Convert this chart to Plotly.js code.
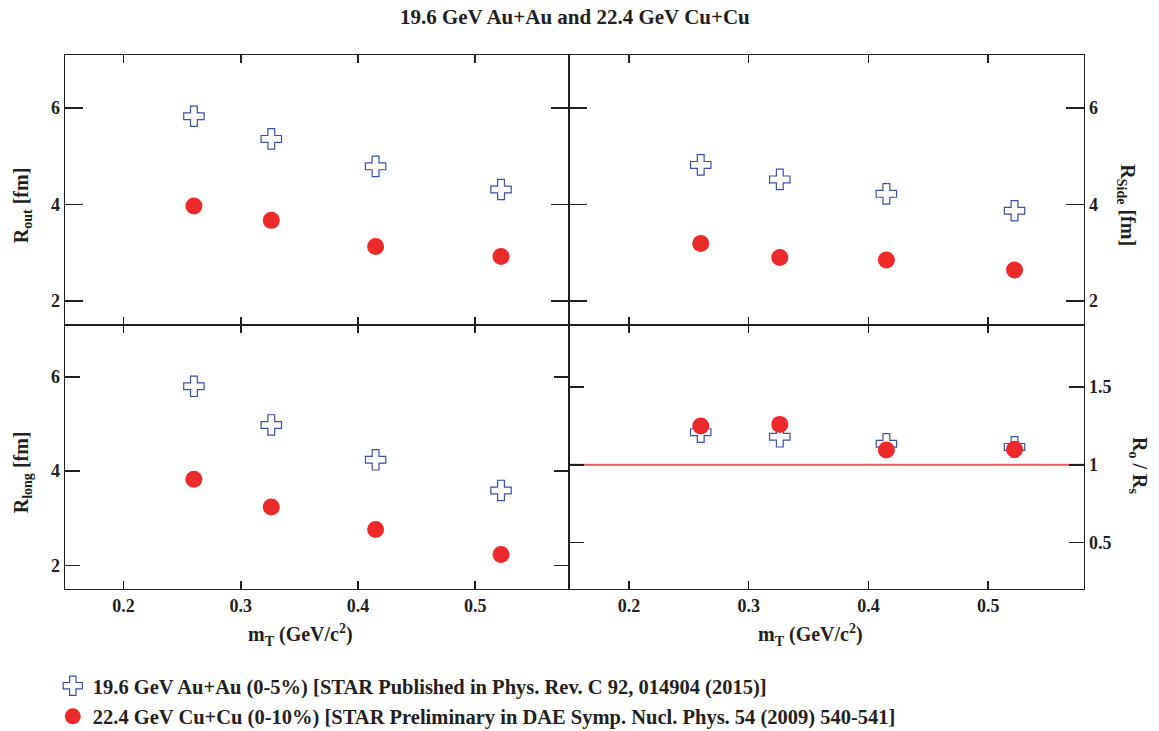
<!DOCTYPE html>
<html>
<head>
<meta charset="utf-8">
<script src="https://cdn.plot.ly/plotly-3.0.1.min.js"></script>
<style>html,body{margin:0;padding:0;background:#fff;}#chart{width:1159px;height:731px;}</style>
</head>
<body>
<div id="chart"></div>
<script>
// ---- data ----
const mT = [0.260, 0.326, 0.415, 0.522];
const auRout  = [5.83, 5.36, 4.79, 4.31];
const cuRout  = [3.97, 3.67, 3.13, 2.92];
const auRside = [4.82, 4.52, 4.22, 3.87];
const cuRside = [3.19, 2.90, 2.85, 2.64];
const auRlong = [5.80, 4.98, 4.24, 3.59];
const cuRlong = [3.83, 3.24, 2.76, 2.23];
const auRatio = [1.21, 1.18, 1.135, 1.115];
const cuRatio = [1.25, 1.26, 1.095, 1.10];
const ratioRef = 1;
const auName = '19.6 GeV Au+Au (0-5%) [STAR Published in Phys. Rev. C 92, 014904 (2015)]';
const cuName = '22.4 GeV Cu+Cu (0-10%) [STAR Preliminary in DAE Symp. Nucl. Phys. 54 (2009) 540-541]';
const radTicks = [2, 4, 6];
const ratioTicks = [0.5, 1, 1.5];
const xTicks = [0.2, 0.3, 0.4, 0.5];

const serif = '"Liberation Serif", serif';
const ink = '#231f20';
const blue = '#3d4fa8';
const red = '#ec2a2a';

const auMarker = {symbol: 'cross-open', size: 17, color: blue, line: {color: blue, width: 1.2}};
const cuMarker = {symbol: 'circle', size: 17, color: red, line: {width: 0}};

function pair(xa, ya, au, cu, legend) {
  return [
    {x: mT, y: au, xaxis: xa, yaxis: ya, type: 'scatter', mode: 'markers', marker: auMarker,
     name: auName, showlegend: legend, legendgroup: 'au', cliponaxis: false},
    {x: mT, y: cu, xaxis: xa, yaxis: ya, type: 'scatter', mode: 'markers', marker: cuMarker,
     name: cuName, showlegend: legend, legendgroup: 'cu', cliponaxis: false}
  ];
}

const traces = [].concat(
  pair('x', 'y', auRout, cuRout, true),
  pair('x2', 'y2', auRside, cuRside, false),
  pair('x3', 'y3', auRlong, cuRlong, false),
  pair('x4', 'y4', auRatio, cuRatio, false)
);

const tickFont = {family: serif, size: 18, color: ink, weight: 'bold'};
const xr = [0.15, 0.58];
const yr = [1.5, 7.1];
const splitX = 0.4946, splitY = 0.4944;

function xax(domain, anchor, labels) {
  return {domain: domain, anchor: anchor, range: xr, tickvals: xTicks,
    ticktext: xTicks.map(v => v.toFixed(1)), showticklabels: labels,
    ticks: 'inside', ticklen: 8, tickwidth: 1.5, tickcolor: ink,
    showline: true, linecolor: ink, linewidth: 1.4, mirror: 'ticks',
    showgrid: false, zeroline: false, tickfont: tickFont, automargin: false};
}
function yax(domain, anchor, range, vals, side, len) {
  return {domain: domain, anchor: anchor, range: range, tickvals: vals,
    ticktext: vals.map(v => String(v)), side: side,
    ticks: 'inside', ticklen: len, tickwidth: 1.5, tickcolor: ink,
    showline: true, linecolor: ink, linewidth: 1.4, mirror: 'ticks',
    showgrid: false, zeroline: false, tickfont: tickFont, automargin: false};
}

const titleFont = {family: serif, size: 20, color: ink, weight: 'bold'};
function ann(text, x, y, angle) {
  return {text: text, xref: 'paper', yref: 'paper', x: x, y: y, textangle: angle,
    showarrow: false, font: titleFont, xanchor: 'center', yanchor: 'middle'};
}
const mtTitle = 'm<sub>T</sub> (GeV/c<sup>2</sup>)';

const layout = {
  width: 1159, height: 731,
  margin: {l: 65, r: 75, t: 55, b: 142, autoexpand: false},
  paper_bgcolor: '#fff', plot_bgcolor: '#fff',
  title: {text: '19.6 GeV Au+Au and 22.4 GeV Cu+Cu', x: 0.496, xanchor: 'center',
    y: 1 - 17 / 731, yanchor: 'middle', font: {family: serif, size: 21, color: ink, weight: 'bold'}},
  xaxis:  xax([0, splitX], 'y', false),
  yaxis:  yax([splitY, 1], 'x', yr, radTicks, 'left', 18),
  xaxis2: xax([splitX, 1], 'y2', false),
  yaxis2: yax([splitY, 1], 'x2', yr, radTicks, 'right', 18),
  xaxis3: xax([0, splitX], 'y3', true),
  yaxis3: yax([0, splitY], 'x3', yr, radTicks, 'left', 15),
  xaxis4: xax([splitX, 1], 'y4', true),
  yaxis4: yax([0, splitY], 'x4', [0.2, 1.9], ratioTicks, 'right', 15),
  shapes: [{type: 'line', xref: 'x4 domain', yref: 'y4', x0: 0, x1: 1, y0: ratioRef, y1: ratioRef,
    line: {color: '#e8595a', width: 2}, layer: 'below'}],
  annotations: [
    ann('R<sub>out</sub> [fm]', -0.042, 0.719, -90),
    ann('R<sub>Side</sub> [fm]', 1.042, 0.719, 90),
    ann('R<sub>long</sub> [fm]', -0.042, 0.219, -90),
    ann('R<sub>o</sub> / R<sub>s</sub>', 1.054, 0.232, 90),
    ann(mtTitle, (300 - 65) / 1019, -0.086, 0),
    ann(mtTitle, (810 - 65) / 1019, -0.086, 0)
  ],
  showlegend: true,
  legend: {x: -0.012, xanchor: 'left', y: -0.144, yanchor: 'top', orientation: 'v',
    font: {family: serif, size: 20.5, color: ink, weight: 'bold'}, bgcolor: 'rgba(0,0,0,0)',
    itemwidth: 30, tracegroupgap: 1}
};

Plotly.newPlot('chart', traces, layout, {displayModeBar: false, staticPlot: true});
</script>
</body>
</html>
